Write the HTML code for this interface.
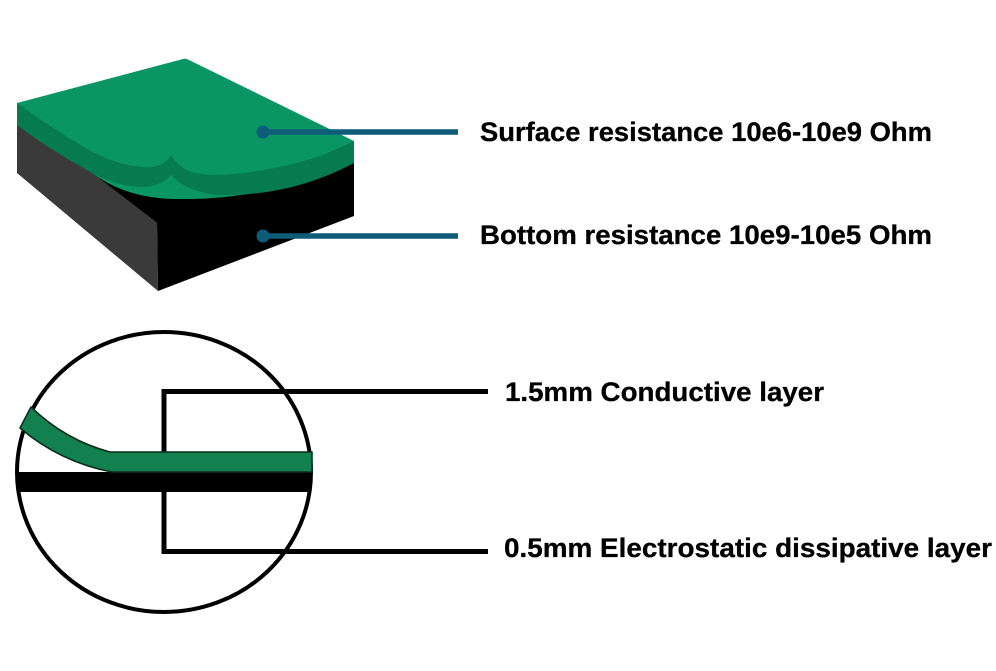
<!DOCTYPE html>
<html>
<head>
<meta charset="utf-8">
<style>
html,body{margin:0;padding:0;background:#fff}
svg{display:block}
text{font-family:"Liberation Sans",Arial,sans-serif;font-weight:bold;font-size:27px;fill:#000;stroke:#000;stroke-width:.3px}
</style>
</head>
<body>
<svg width="996" height="671" viewBox="0 0 996 671" xmlns="http://www.w3.org/2000/svg">
<rect width="996" height="671" fill="#fff"/>
<!-- block -->
<path d="M17 120 L87 168 L157 223 L158 291 L17 173 Z" fill="#3a3a3a"/>
<path d="M85 167 L157 223 L158 291 L354 216 L354 160 L200 170 Z" fill="#000"/>
<path d="M85 167 C105 185 135 199 177 199 C240 200 300 186 354 163 L354 141 L200 150 Z" fill="#0a9664"/>
<path d="M17 103 L17 125 Q50 150 87 170 Q115 187 143 187 Q158 187 171 175 Q185 191 217 195 Q290 197 354 163 L354 141 Z" fill="#067a50"/>
<path d="M17 103 L183 59 Q186 58 189 60 L354 141 Q335 150 320 156 Q265 174 213 175 Q190 174 182 167 Q175 162 171 155 Q167 162 160 165 Q152 168 143 167 Q115 165 87 149 Q50 127 17 103 Z" fill="#0a9664"/>
<!-- teal leaders -->
<path d="M263 132 H458 M263 236 H458" stroke="#0f5c78" stroke-width="5.5" fill="none"/>
<circle cx="263" cy="132" r="6.5" fill="#0f5c78"/>
<circle cx="263" cy="236" r="6.5" fill="#0f5c78"/>
<!-- circle section -->
<ellipse cx="164" cy="472" rx="147" ry="140" fill="#fff" stroke="#000" stroke-width="4"/>
<path d="M488 391.5 H164 V551.5 H488" fill="none" stroke="#000" stroke-width="5"/>
<rect x="17" y="472" width="294" height="20" fill="#000"/>
<path d="M31 407 L20 428 Q60 462 112 472 L312 472 L312 452 L110 452 Q65 440 31 407 Z" fill="#12804f" stroke="#0b2d1e" stroke-width="1.6" stroke-linejoin="round"/>
<!-- labels -->
<text x="480" y="141" textLength="452" lengthAdjust="spacingAndGlyphs">Surface resistance 10e6-10e9 Ohm</text>
<text x="480" y="244" textLength="452" lengthAdjust="spacingAndGlyphs">Bottom resistance 10e9-10e5 Ohm</text>
<text x="505" y="401" textLength="319" lengthAdjust="spacingAndGlyphs">1.5mm Conductive layer</text>
<text x="504" y="557" textLength="488" lengthAdjust="spacingAndGlyphs">0.5mm Electrostatic dissipative layer</text>
</svg>
</body>
</html>
